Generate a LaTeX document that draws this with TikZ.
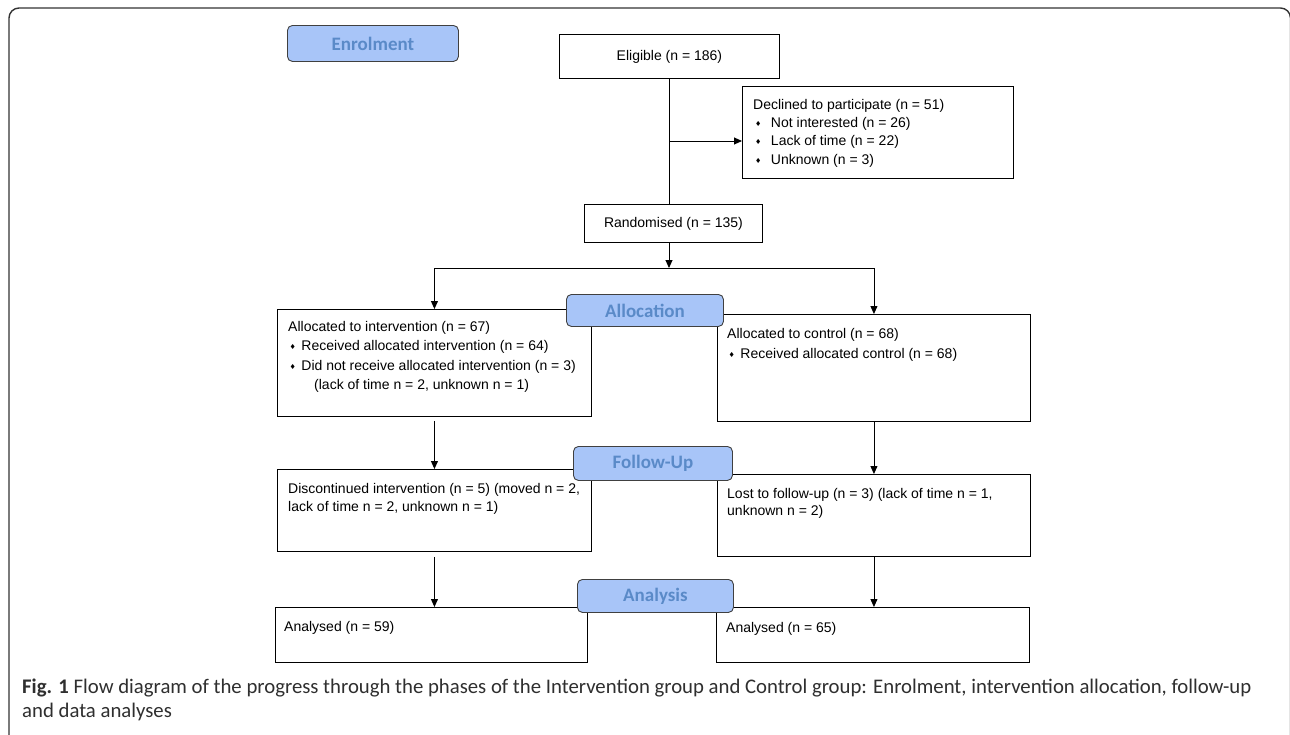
\documentclass[tikz,border=0pt]{standalone}
\usepackage{fontspec}
\setmainfont{Liberation Sans}
\newfontfamily\capfont{Carlito}
\newfontfamily\djv{DejaVu Sans}
\usetikzlibrary{arrows.meta}
\definecolor{phasefill}{HTML}{A8C5F8}
\definecolor{phasetext}{HTML}{5A8AC8}
\definecolor{framegray}{HTML}{333333}
\definecolor{captext}{HTML}{2F2F2F}
\newcommand{\bul}{\raisebox{1pt}{\djv\fontsize{7}{7}\selectfont\char"2666}}
\begin{document}
\begin{tikzpicture}[x=1pt,y=-1pt,
  box/.style={draw=black, line width=0.9pt, anchor=north west, inner sep=0pt, font=\fontsize{14}{17}\selectfont},
  txt/.style={anchor=north west, inner sep=0pt, align=left},
  phase/.style={draw=black!75, fill=phasefill, rounded corners=5pt, line width=0.9pt, anchor=north west, inner sep=0pt, text=phasetext, font=\capfont\bfseries\fontsize{19}{20}\selectfont},
  conn/.style={line width=0.9pt, draw=black},
  arr/.style={conn, -{Triangle[length=8pt,width=7pt]}}]

\useasboundingbox (0,0) rectangle (1290,734);
\fill[white] (0,0) rectangle (1290,734);
\begin{scope}
\clip (0,0) rectangle (1290,734);
\draw[framegray, line width=1.4pt, rounded corners=10pt] (9,8) rectangle (1290.5,745);
\end{scope}

% boxes
\node[box, minimum width=220pt, minimum height=44pt] (elig) at (559,34) {Eligible (n = 186)};
\node[box, minimum width=271pt, minimum height=92pt] (decl) at (742,86) {};
\node[box, minimum width=178pt, minimum height=38pt] (rand) at (584,204) {Randomised (n = 135)};
\node[box, minimum width=314pt, minimum height=107pt] (allocL) at (277,309) {};
\node[box, minimum width=313pt, minimum height=107pt] (allocR) at (717,314) {};
\node[box, minimum width=314pt, minimum height=82pt] (discL) at (277,469) {};
\node[box, minimum width=313pt, minimum height=82pt] (lostR) at (717,474) {};
\node[box, minimum width=312pt, minimum height=55pt] (anL) at (275,607) {};
\node[box, minimum width=313pt, minimum height=55pt] (anR) at (716,607) {};

% box texts
\node[txt, font=\fontsize{14}{18.3}\selectfont] (declT) at (753,99)
  {Declined to participate (n = 51)\\
   \hspace*{2pt}\bul\hspace*{9.5pt}Not interested (n = 26)\\
   \hspace*{2pt}\bul\hspace*{9.5pt}Lack of time (n = 22)\\
   \hspace*{2pt}\bul\hspace*{9.5pt}Unknown (n = 3)};
\node[txt, font=\fontsize{14}{19.5}\selectfont] (allocLT) at (288,321)
  {Allocated to intervention (n = 67)\\
   \hspace*{1.5pt}\bul\hspace*{5.5pt}Received allocated intervention (n = 64)\\
   \hspace*{1.5pt}\bul\hspace*{5.5pt}Did not receive allocated intervention (n = 3)\\
   \hspace*{26pt}(lack of time n = 2, unknown n = 1)};
\node[txt, font=\fontsize{14}{20}\selectfont] (allocRT) at (727,328)
  {Allocated to control (n = 68)\\
   \hspace*{1.5pt}\bul\hspace*{5.5pt}Received allocated control (n = 68)};
\node[txt, font=\fontsize{14}{17.5}\selectfont] (discT) at (288,483.5)
  {Discontinued intervention (n = 5) (moved n = 2,\\
   lack of time n = 2, unknown n = 1)};
\node[txt, font=\fontsize{14}{17.5}\selectfont] (lostT) at (727,488)
  {Lost to follow-up (n = 3) (lack of time n = 1,\\
   unknown n = 2)};
\node[txt, font=\fontsize{14}{17}\selectfont] (anLT) at (284,621) {Analysed (n = 59)};
\node[txt, font=\fontsize{14}{17}\selectfont] (anRT) at (726,622) {Analysed (n = 65)};

% connectors
\coordinate (br) at (669,141);
\coordinate (split) at (669,268);
\draw[conn] (elig.south) -- (elig.south |- rand.north);
\draw[arr] (br) -- (br -| decl.west);
\draw[arr] (split |- rand.south) -- (split);
\draw[conn] (split -| allocL.north) -- (split -| allocR.north);
\draw[arr] (split -| allocL.north) -- (allocL.north);
\draw[arr] (split -| allocR.north) -- (allocR.north);
\draw[arr] ([yshift=-4pt]allocL.south) -- (discL.north);
\draw[arr] (allocR.south) -- (lostR.north);
\draw[arr] ([yshift=-5pt]discL.south) -- (discL.south |- anL.north);
\draw[arr] (lostR.south) -- (lostR.south |- anR.north);

% phase labels
\node[phase, minimum width=171pt, minimum height=36pt] (enrol) at (287,25) {Enrolment};
\node[phase, minimum width=157pt, minimum height=32pt] (alloc) at (566,294) {Allocation};
\node[phase, minimum width=159pt, minimum height=34pt] (follow) at (573,446) {Follow-Up};
\node[phase, minimum width=156pt, minimum height=33pt] (analysis) at (577,579) {Analysis};

% caption
\node[anchor=north west, inner sep=0pt, align=left, text=captext, font=\capfont\fontsize{20.75}{24}\selectfont] (cap) at (22,679)
  {\textbf{Fig. 1} Flow diagram of the progress through the phases of the Intervention group and Control group: Enrolment, intervention allocation, follow-up\\
   and data analyses};
\end{tikzpicture}
\end{document}
